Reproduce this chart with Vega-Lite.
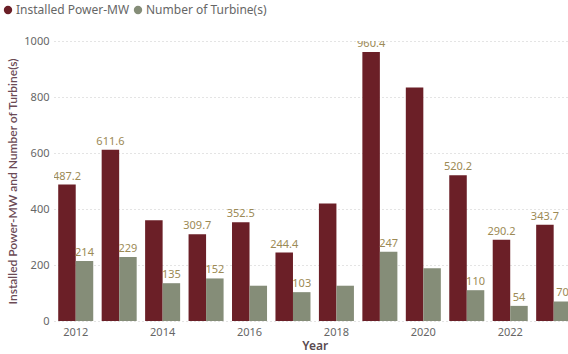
{
  "$schema": "https://vega.github.io/schema/vega-lite/v6.json",
  "autosize": {"type": "none"},
  "width": 514,
  "height": 280,
  "padding": {"left": 54, "top": 41, "right": 0, "bottom": 33},
  "background": "white",
  "config": {
    "font": "Noto Sans",
    "view": {"stroke": null}
  },
  "data": {
    "values": [
      {"year": "2012", "series": "Installed Power-MW", "value": 487.2, "label": "487.2"},
      {"year": "2012", "series": "Number of Turbine(s)", "value": 214, "label": "214"},
      {"year": "2013", "series": "Installed Power-MW", "value": 611.6, "label": "611.6"},
      {"year": "2013", "series": "Number of Turbine(s)", "value": 229, "label": "229"},
      {"year": "2014", "series": "Installed Power-MW", "value": 360, "label": ""},
      {"year": "2014", "series": "Number of Turbine(s)", "value": 135, "label": "135"},
      {"year": "2015", "series": "Installed Power-MW", "value": 309.7, "label": "309.7"},
      {"year": "2015", "series": "Number of Turbine(s)", "value": 152, "label": "152"},
      {"year": "2016", "series": "Installed Power-MW", "value": 352.5, "label": "352.5"},
      {"year": "2016", "series": "Number of Turbine(s)", "value": 126, "label": ""},
      {"year": "2017", "series": "Installed Power-MW", "value": 244.4, "label": "244.4"},
      {"year": "2017", "series": "Number of Turbine(s)", "value": 103, "label": "103"},
      {"year": "2018", "series": "Installed Power-MW", "value": 420, "label": ""},
      {"year": "2018", "series": "Number of Turbine(s)", "value": 126, "label": ""},
      {"year": "2019", "series": "Installed Power-MW", "value": 960.4, "label": "960.4"},
      {"year": "2019", "series": "Number of Turbine(s)", "value": 247, "label": "247"},
      {"year": "2020", "series": "Installed Power-MW", "value": 834, "label": ""},
      {"year": "2020", "series": "Number of Turbine(s)", "value": 188, "label": ""},
      {"year": "2021", "series": "Installed Power-MW", "value": 520.2, "label": "520.2"},
      {"year": "2021", "series": "Number of Turbine(s)", "value": 110, "label": "110"},
      {"year": "2022", "series": "Installed Power-MW", "value": 290.2, "label": "290.2"},
      {"year": "2022", "series": "Number of Turbine(s)", "value": 54, "label": "54"},
      {"year": "2023", "series": "Installed Power-MW", "value": 343.7, "label": "343.7"},
      {"year": "2023", "series": "Number of Turbine(s)", "value": 70, "label": "70"}
    ]
  },
  "encoding": {
    "x": {
      "field": "year",
      "type": "nominal",
      "sort": null,
      "scale": {"range": [0, 521.4], "paddingInner": 0.194, "paddingOuter": 0.097},
      "axis": {
        "values": ["2012", "2014", "2016", "2018", "2020", "2022"],
        "labelAngle": 0,
        "labelFontSize": 11,
        "labelColor": "#666666",
        "labelPadding": 5,
        "ticks": false,
        "domain": false,
        "title": "Year",
        "titleFontSize": 12,
        "titleFontWeight": 600,
        "titleColor": "#5a4a4f",
        "titlePadding": 3
      }
    },
    "xOffset": {
      "field": "series",
      "type": "nominal",
      "scale": {"paddingInner": 0, "paddingOuter": 0}
    },
    "y": {
      "field": "value",
      "type": "quantitative",
      "scale": {"domain": [0, 1000], "nice": false},
      "axis": {
        "values": [0, 200, 400, 600, 800, 1000],
        "format": "d",
        "gridDash": [1, 3],
        "gridColor": "#c8c8c8",
        "domain": false,
        "ticks": false,
        "labelFontSize": 11,
        "labelColor": "#666666",
        "labelPadding": 5,
        "title": "Installed Power-MW and Number of Turbine(s)",
        "titleFont": "Lato",
        "titleFontSize": 12,
        "titleFontWeight": 600,
        "titleColor": "#6b4a55",
        "titlePadding": 4
      }
    }
  },
  "layer": [
    {
      "mark": {"type": "bar", "clip": true},
      "encoding": {
        "color": {
          "field": "series",
          "type": "nominal",
          "scale": {
            "domain": ["Installed Power-MW", "Number of Turbine(s)"],
            "range": ["#6b1f27", "#858d78"]
          },
          "legend": {
            "orient": "none",
            "legendX": -52,
            "legendY": -37,
            "direction": "horizontal",
            "title": null,
            "symbolType": "circle",
            "symbolSize": 70,
            "labelFontSize": 12,
            "labelColor": "#666666",
            "columnPadding": 2,
            "symbolOffset": 0,
            "labelOffset": 2
          }
        }
      }
    },
    {
      "transform": [{"filter": "datum.label != ''"}],
      "mark": {"type": "text", "dy": -8, "fontSize": 11, "color": "#9c8a55", "clip": true},
      "encoding": {
        "text": {"field": "label"}
      }
    }
  ]
}
